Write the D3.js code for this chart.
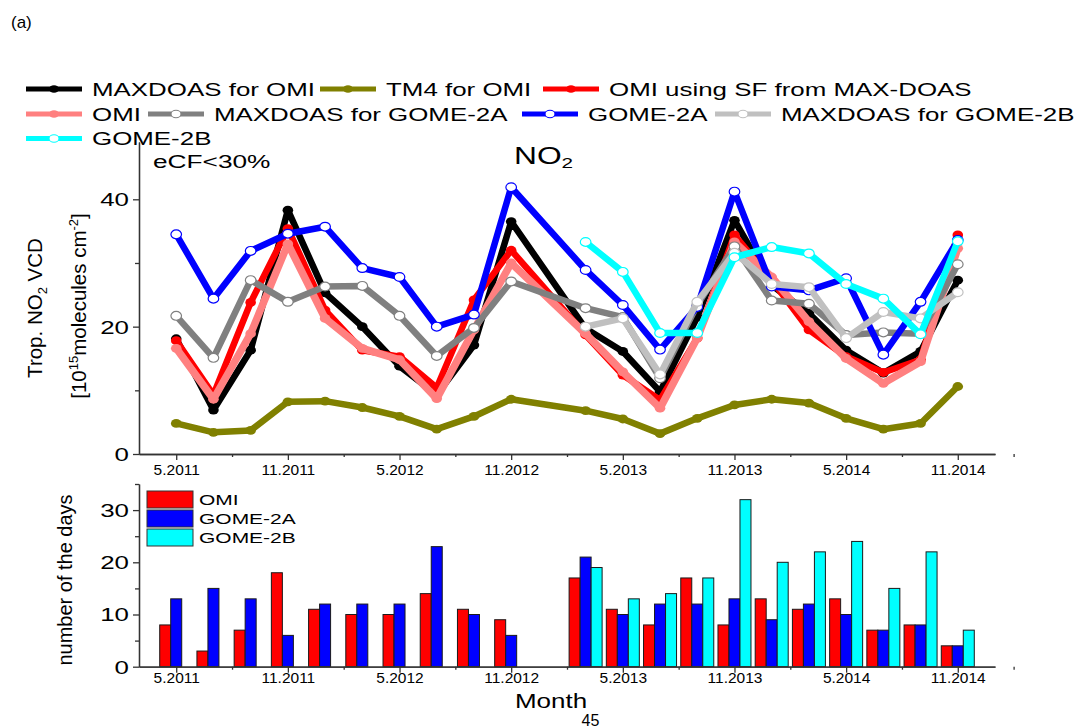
<!DOCTYPE html>
<html><head><meta charset="utf-8">
<script src="https://cdn.jsdelivr.net/npm/d3@7"></script>
<style>body{margin:0;background:#fff} svg{display:block;font-family:"Liberation Sans",Arial,Helvetica,sans-serif}</style>
</head><body><svg id="c" width="1078" height="728"></svg>
<script>
// ---------------- DATA ----------------
const monthLabels = ["5.2011","7.2011","9.2011","11.2011","1.2012","3.2012","5.2012","7.2012","9.2012","11.2012","1.2013",
  "3.2013","5.2013","7.2013","9.2013","11.2013","1.2014","3.2014","5.2014","7.2014","9.2014","11.2014"];
const tickLabels = ["5.2011","11.2011","5.2012","11.2012","5.2013","11.2013","5.2014","11.2014"];

const seriesNames = ["MAXDOAS for OMI","TM4 for OMI","OMI using SF from MAX-DOAS","OMI",
  "MAXDOAS for GOME-2A","GOME-2A","MAXDOAS for GOME-2B","GOME-2B"];
const maxdoasForOMI = [18.1,6.9,16.3,38.3,25.3,20.0,13.8,9.3,17.1,36.5,null,19.7,16.1,9.8,21.5,36.7,26.5,22.1,16.3,12.7,16.1,27.3];
const tm4ForOMI     = [4.8,3.4,3.7,8.2,8.3,7.3,5.9,3.9,5.9,8.6,null,6.8,5.5,3.2,5.6,7.7,8.6,8.0,5.6,3.9,4.8,10.6];
const omiUsingSF    = [17.8,9.3,23.8,35.4,22.6,16.3,15.3,10.4,24.2,32.0,null,18.7,12.4,8.5,18.2,34.4,27.3,19.5,15.3,12.8,14.8,34.4];
const omi           = [16.6,8.6,18.9,33.0,21.3,16.6,14.8,8.7,19.5,30.0,null,18.9,12.9,7.2,18.2,33.3,27.8,20.8,15.0,11.1,14.5,32.3];
const maxdoasForG2A = [21.7,15.1,27.3,23.9,26.3,26.4,21.7,15.4,19.8,27.1,null,22.9,21.5,11.9,23.4,32.6,24.1,23.6,18.7,19.1,18.9,29.8];
const gome2A        = [34.5,24.4,31.9,34.6,35.7,29.2,27.8,20.0,21.9,41.9,null,28.9,23.4,16.4,23.1,41.2,26.3,25.7,27.6,15.6,23.9,33.6];
const maxdoasForG2B = [null,null,null,null,null,null,null,null,null,null,null,20.0,21.3,12.5,23.9,31.6,26.7,26.2,18.2,22.3,21.3,25.4];
const gome2B        = [null,null,null,null,null,null,null,null,null,null,null,33.3,28.6,19.0,19.0,30.9,32.5,31.5,26.7,24.4,18.8,33.4];

const barNames = ["OMI","GOME-2A","GOME-2B"];
const omiDays   = [8,3,7,18,11,10,10,14,11,9,null,17,11,8,17,8,13,11,13,7,8,4];
const gome2ADays= [13,15,13,6,12,12,12,23,10,6,null,21,10,12,12,13,9,12,10,7,8,4];
const gome2BDays= [null,null,null,null,null,null,null,null,null,null,null,19,13,14,17,32,20,22,24,15,22,7];

// ---------------- STYLE ----------------
const seriesValues = [maxdoasForOMI,tm4ForOMI,omiUsingSF,omi,maxdoasForG2A,gome2A,maxdoasForG2B,gome2B];
const seriesColors = ["#000000","#808000","#ff0000","#ff8080","#808080","#0000ff","#c0c0c0","#00ffff"];
const seriesOpen   = [false,false,false,false,true,true,true,true];
const seriesWidth  = [6.5,6.5,6.5,7.5,6.5,6.5,6.5,6.5];
const barValues = [omiDays,gome2ADays,gome2BDays];
const barColors = ["#ff0000","#0000ff","#00ffff"];

const svg = d3.select('#c');
const AX = '#333';

function mIdx(lbl){ const [m,y] = lbl.split('.').map(Number); return (y-2011)*12 + (m-5); }

function stext(parent, x, y, str, size, sx, anchor){
  const g = parent.append('g').attr('transform', `translate(${x},${y}) scale(${sx},1)`);
  return g.append('text').attr('font-size', size).attr('text-anchor', anchor||'start').attr('fill','#000').text(str);
}

// scales
const x = d3.scaleLinear().domain([-2,44]).range([139,995]);
const yTop = d3.scaleLinear().domain([0,49]).range([454,142]);
const yBot = d3.scaleLinear().domain([0,35]).range([666.7,484]);
const xb = d3.scaleBand().domain(barNames).range([-16.5,16.5]).paddingInner(0);

// (a)
svg.append('text').attr('x',11).attr('y',28).attr('font-size',17).text('(a)');

// ---------------- TOP CHART ----------------
const topG = svg.append('g');
const line = d3.line().x(d=>x(d.m)).y(d=>yTop(d.v));
seriesValues.forEach((vals,si)=>{
  const data = monthLabels.map((l,i)=>({m:mIdx(l), v:vals[i]})).filter(d=>d.v!=null);
  topG.append('path').datum(data).attr('d',line).attr('fill','none')
    .attr('stroke',seriesColors[si]).attr('stroke-width',seriesWidth[si])
    .attr('stroke-linejoin','round').attr('stroke-linecap','round');
  topG.selectAll(null).data(data).enter().append('ellipse')
    .attr('cx',d=>x(d.m)).attr('cy',d=>yTop(d.v)).attr('rx',5.3).attr('ry',4.4)
    .attr('fill', seriesOpen[si] ? '#fff' : seriesColors[si])
    .attr('stroke', seriesOpen[si] ? seriesColors[si] : 'none').attr('stroke-width',1.2);
});

const majorIdx = tickLabels.map(mIdx);
const minorIdx = majorIdx.map(m=>m+3);

function styleAxis(g){
  g.selectAll('path,line').attr('stroke',AX).attr('stroke-width',1.3);
  g.selectAll('text').attr('fill','#000').attr('font-family','"Liberation Sans",Arial,sans-serif');
}
function xAxes(yPos, labBase){
  const gMaj = svg.append('g').attr('transform',`translate(0,${yPos})`)
    .call(d3.axisBottom(x).tickValues(majorIdx).tickSize(6).tickSizeOuter(0)
      .tickFormat((d,i)=>tickLabels[i]));
  styleAxis(gMaj);
  gMaj.selectAll('text').attr('font-size',15.5).attr('y',labBase-yPos).attr('dy',0);
  const gMin = svg.append('g').attr('transform',`translate(0,${yPos})`)
    .call(d3.axisBottom(x).tickValues(minorIdx).tickSize(3).tickSizeOuter(0).tickFormat(''));
  styleAxis(gMin);
}
function yAxes(scale, major, minor){
  const gMaj = svg.append('g').attr('transform','translate(139,0)')
    .call(d3.axisLeft(scale).tickValues(major).tickSize(6).tickSizeOuter(0));
  styleAxis(gMaj);
  gMaj.selectAll('text').attr('font-size',18.5).attr('x',-10/1.4).attr('dy','0.35em')
    .attr('transform','scale(1.4,1)');
  const gMin = svg.append('g').attr('transform','translate(139,0)')
    .call(d3.axisLeft(scale).tickValues(minor).tickSize(4).tickSizeOuter(0).tickFormat(''));
  styleAxis(gMin);
}
xAxes(454, 475);
yAxes(yTop, [0,20,40], [10,30]);

// title NO2
{
  const g = svg.append('g').attr('transform','translate(514,164) scale(1.38,1)');
  const t = g.append('text').attr('font-size',23);
  t.append('tspan').text('NO');
  t.append('tspan').attr('font-size',15).attr('dy',4).text('2');
}
stext(svg,153,168.3,'eCF<30%',18.5,1.42);

// y title top
{
  const g = svg.append('g').attr('transform','translate(42,308) rotate(-90)');
  const t = g.append('text').attr('font-size',20.5).attr('text-anchor','middle');
  t.append('tspan').text('Trop. NO');
  t.append('tspan').attr('font-size',13).attr('dy',5).text('2');
  t.append('tspan').attr('dy',-5).text(' VCD');
  const g2 = svg.append('g').attr('transform','translate(86,306) rotate(-90)');
  const t2 = g2.append('text').attr('font-size',20.5).attr('text-anchor','middle');
  t2.append('tspan').text('[10');
  t2.append('tspan').attr('font-size',13).attr('dy',-8).text('15');
  t2.append('tspan').attr('dy',8).text('molecules cm');
  t2.append('tspan').attr('font-size',13).attr('dy',-8).text('-2');
  t2.append('tspan').attr('dy',8).text(']');
}

// legend (top)
const legendRows = [{y:89, items:[[0,26],[1,320],[2,543]]},
                    {y:114, items:[[3,26],[4,148],[5,522],[6,715]]},
                    {y:138.5, items:[[7,26]]}];
legendRows.forEach(r=>{
  r.items.forEach(([si,lx])=>{
    svg.append('line').attr('x1',lx).attr('x2',lx+56).attr('y1',r.y).attr('y2',r.y)
      .attr('stroke',seriesColors[si]).attr('stroke-width',5);
    svg.append('ellipse').attr('cx',lx+28).attr('cy',r.y).attr('rx',5).attr('ry',3.8)
      .attr('fill', seriesOpen[si] ? '#fff' : seriesColors[si])
      .attr('stroke', seriesOpen[si] ? seriesColors[si] : 'none').attr('stroke-width',1.1);
    stext(svg, lx+66, r.y+6.7, seriesNames[si], 18.5, 1.4);
  });
});

// ---------------- BOTTOM CHART ----------------
const bars = svg.append('g');
barValues.forEach((vals,bi)=>{
  const data = monthLabels.map((l,i)=>({m:mIdx(l), v:vals[i]})).filter(d=>d.v!=null);
  bars.selectAll(null).data(data).enter().append('rect')
    .attr('x',d=>x(d.m)+xb(barNames[bi])).attr('width',xb.bandwidth())
    .attr('y',d=>yBot(d.v)).attr('height',d=>yBot(0)-yBot(d.v))
    .attr('fill',barColors[bi]).attr('stroke','#1a1a1a').attr('stroke-width',1);
});
xAxes(666.7, 683);
yAxes(yBot, [0,10,20,30], [5,15,25,35]);

// bar legend
barNames.forEach((n,i)=>{
  const yy = 491 + i*19;
  svg.append('rect').attr('x',147).attr('y',yy).attr('width',46).attr('height',17)
    .attr('fill',barColors[i]).attr('stroke','#333').attr('stroke-width',1);
  stext(svg,199,yy+14,n,15,1.4);
});

// bottom labels
svg.append('g').attr('transform','translate(72,580) rotate(-90)')
  .append('text').attr('font-size',20).attr('text-anchor','middle').text('number of the days');
stext(svg,551,708,'Month',20,1.3,'middle');
svg.append('text').attr('x',590.5).attr('y',726).attr('font-size',16).attr('text-anchor','middle').text('45');
</script></body></html>
